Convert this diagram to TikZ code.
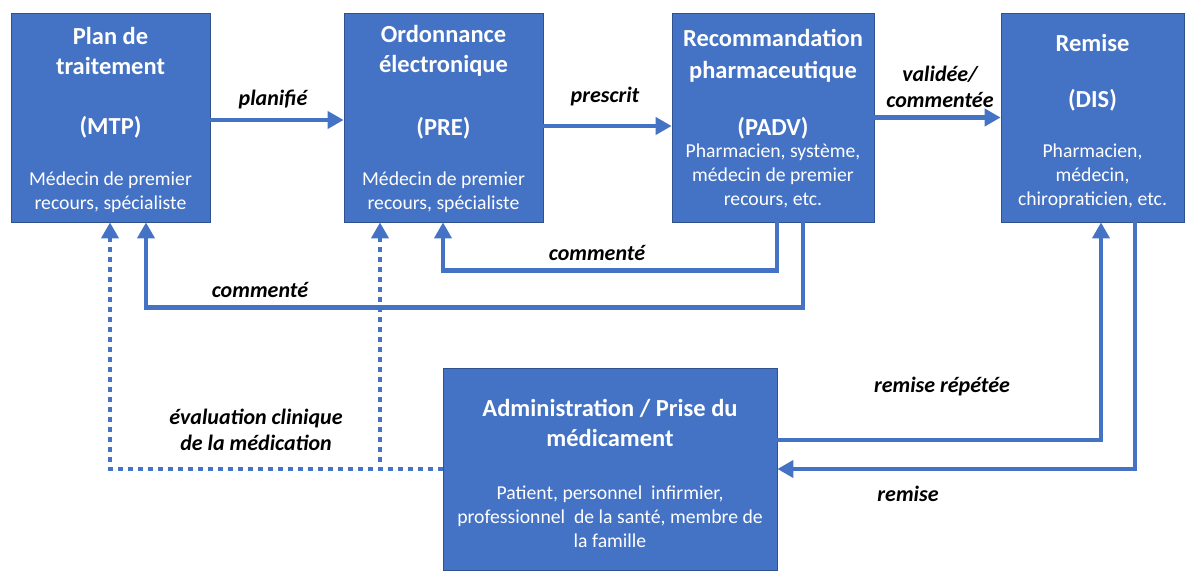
\documentclass[tikz,border=0pt]{standalone}
\usepackage{fontspec}
\setmainfont{Carlito}
\usetikzlibrary{arrows.meta}
\definecolor{boxblue}{HTML}{4472C4}
\definecolor{boxedge}{HTML}{2F528F}
\tikzset{
  stage/.style={draw=boxedge, line width=0.8pt, fill=boxblue, inner sep=0pt},
  ttl/.style={text=white, align=center, font=\bfseries\fontsize{24.5}{30}\selectfont},
  sub/.style={text=white, align=center, font=\fontsize{19.7}{23.8}\selectfont},
  lbl/.style={text=black, align=center, font=\bfseries\itshape\fontsize{22}{25.5}\selectfont},
  flow/.style={draw=boxblue, line width=4.5pt, -{Triangle[length=16pt,width=17pt]}},
  dotflow/.style={draw=boxblue, line width=4.5pt, dash pattern=on 5pt off 5pt, -{Triangle[length=16pt,width=17pt]}}
}
\begin{document}
\begin{tikzpicture}[x=1pt, y=-1pt]
\useasboundingbox (0,0) rectangle (1188,572);

% stage boxes
\node[stage, minimum width=199pt, minimum height=209pt] (mtp)   at (110.5,117.5) {};
\node[stage, minimum width=199pt, minimum height=209pt] (pre)   at (443.5,117.5) {};
\node[stage, minimum width=202pt, minimum height=209pt] (padv)  at (773,117.5) {};
\node[stage, minimum width=183pt, minimum height=209pt] (dis)   at (1092.5,117.5) {};
\node[stage, minimum width=334pt, minimum height=202pt] (admin) at (610,469) {};

% box texts
\node[ttl] (mtpT) at (110.5,51) {Plan de\\traitement};
\node[ttl] (mtpC) at (110.5,127) {(MTP)};
\node[sub] (mtpS) at (110.5,192) {Médecin de premier\\recours, spécialiste};

\node[ttl] (preT) at (443.5,51) {Ordonnance\\électronique};
\node[ttl] (preC) at (443.5,128) {(PRE)};
\node[sub] (preS) at (443.5,192) {Médecin de premier\\recours, spécialiste};

\node[ttl, font=\bfseries\fontsize{24.5}{32}\selectfont] (padvT) at (773,56) {Recommandation\\pharmaceutique};
\node[ttl] (padvC) at (773,128) {(PADV)};
\node[sub] (padvS) at (773,176) {Pharmacien, système,\\médecin de premier\\recours, etc.};

\node[ttl] (disT) at (1092.5,43) {Remise};
\node[ttl] (disC) at (1092.5,100) {(DIS)};
\node[sub] (disS) at (1092.5,176) {Pharmacien,\\médecin,\\chiropraticien, etc.};

\node[ttl] (adminT) at (610,423) {Administration / Prise du\\médicament};
\node[sub] (adminS) at (610,517) {Patient, personnel\ \ infirmier,\\professionnel\ \ de la santé, membre de\\la famille};

% main flow
\draw[flow] ([yshift=-2.5pt]mtp.east) -- ([yshift=-2.5pt]pre.west);
\draw[flow] ([yshift=-8.5pt]pre.east) -- ([yshift=-8.5pt]padv.west);
\draw[flow] (padv.east) -- (dis.west);

% feedback from the recommendation
\draw[flow] ([xshift=4pt]padv.south) -- ++(0,48) -| ([xshift=-0.5pt]pre.south);
\draw[flow] ([xshift=30pt]padv.south) -- ++(0,85) -| ([xshift=35.5pt]mtp.south);

% clinical evaluation of the medication
\draw[dotflow] (admin.west) -| ([xshift=-0.5pt]mtp.south);
\draw[dotflow] (admin.west) -| ([xshift=-63.5pt]pre.south);

% dispensing loop
\draw[flow] ([yshift=29pt]admin.east) -| ([xshift=8.5pt]dis.south);
\draw[flow] ([xshift=42.5pt]dis.south) |- (admin.east);

% connector labels
\node[lbl] (lPlan)  at (273,100) {planifié};
\node[lbl] (lPres)  at (605,97) {prescrit};
\node[lbl] (lVal)   at (940,87) {validée/\\commentée};
\node[lbl] (lCom1)  at (597,253) {commenté};
\node[lbl] (lCom2)  at (260,290) {commenté};
\node[lbl] (lEval)  at (256,430) {évaluation clinique\\de la médication};
\node[lbl] (lRep)   at (942,387) {remise répétée};
\node[lbl] (lRem)   at (908,494) {remise};
\end{tikzpicture}
\end{document}
